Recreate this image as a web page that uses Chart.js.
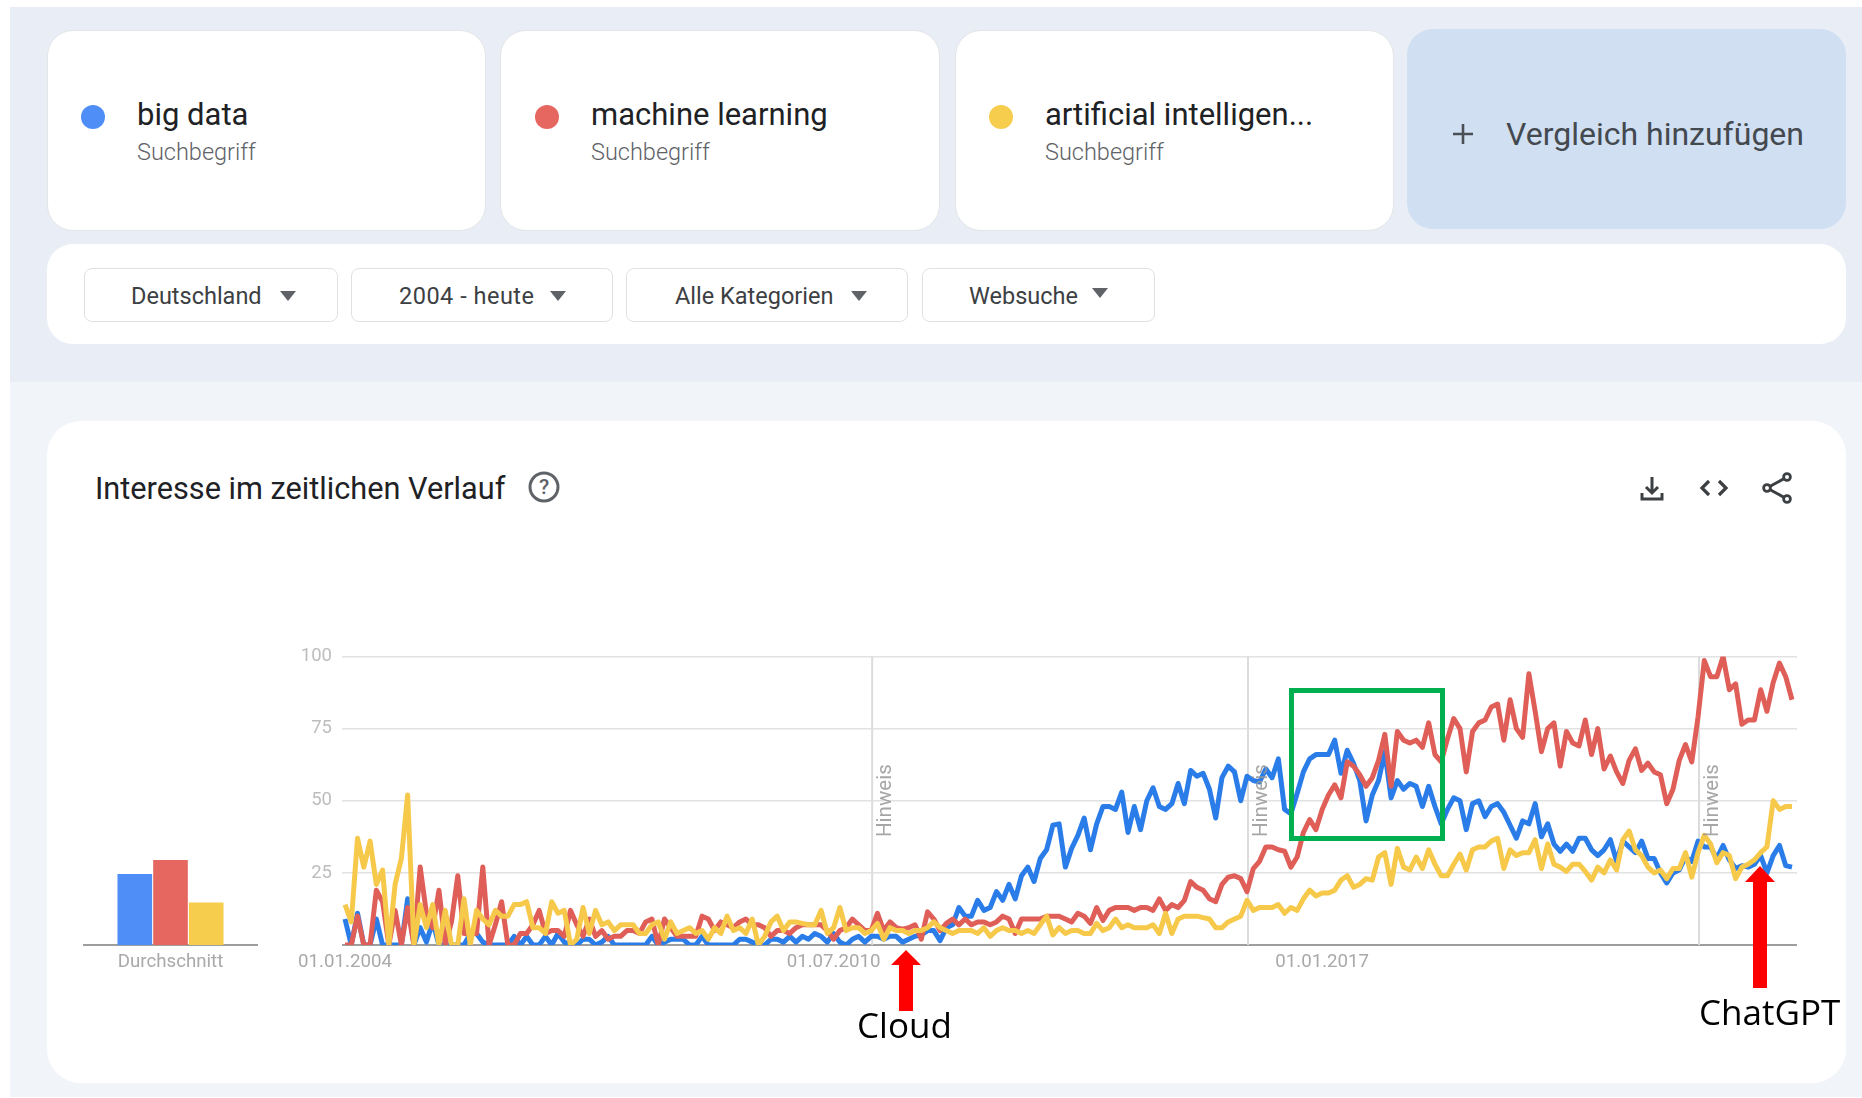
<!DOCTYPE html>
<html lang="de">
<head>
<meta charset="utf-8">
<title>Interesse im zeitlichen Verlauf</title>
<script src="https://cdn.jsdelivr.net/npm/chart.js@4/dist/chart.umd.min.js"></script>
<style>
  html, body { margin: 0; padding: 0; background: #fff; }
  body { width: 1862px; height: 1098px; position: relative; overflow: hidden; font-family: Roboto, sans-serif; }
  .abs { position: absolute; }
  .card { position: absolute; background: #fff; border-radius: 26px; box-sizing: border-box; }
  .term-card { top: 30px; height: 201px; width: 439px; border: 1px solid #e3e5e8; }
  .dot { position: absolute; width: 24px; height: 24px; border-radius: 50%; top: 105px; }
  .term { position: absolute; top: 97px; font-size: 31px; line-height: 36px; color: #202124; white-space: nowrap; }
  .sub { position: absolute; top: 138px; font-size: 23.5px; line-height: 28px; font-weight: 300; color: #5f6368; white-space: nowrap; }
  .chip { position: absolute; top: 268px; height: 54px; background: #fff; border: 1px solid #dfe1e5; border-radius: 8px; box-sizing: border-box; }
  .chip-text { position: absolute; top: 282px; font-size: 23.5px; line-height: 28px; color: #3c4043; white-space: nowrap; }
  .tri { position: absolute; top: 291px; width: 0; height: 0; border-left: 8px solid transparent; border-right: 8px solid transparent; border-top: 10px solid #5f6368; }
  canvas { position: absolute; }
  svg { position: absolute; overflow: visible; }
  .note { position: absolute; font-family: "Open Sans", sans-serif; font-size: 35px; line-height: 44px; color: #000; white-space: nowrap; }
</style>
</head>
<body>
<div class="abs" style="left:10px;top:7px;width:1852px;height:375px;background:#e9eef6"></div>
<div class="abs" style="left:10px;top:382px;width:1852px;height:715px;background:#f1f5fa"></div>

<div class="card term-card" style="left:47px"></div>
<div class="card term-card" style="left:500px;width:440px"></div>
<div class="card term-card" style="left:955px"></div>
<div class="card" style="left:1407px;top:29px;width:439px;height:200px;background:#d0dff2"></div>

<div class="dot" style="left:81px;background:#4f8ef7"></div>
<div class="dot" style="left:535px;background:#e5675f"></div>
<div class="dot" style="left:989px;background:#f7cd4e"></div>
<div class="term" style="left:137px">big data</div>
<div class="term" style="left:591px">machine learning</div>
<div class="term" style="left:1045px">artificial intelligen...</div>
<div class="sub" style="left:137px">Suchbegriff</div>
<div class="sub" style="left:591px">Suchbegriff</div>
<div class="sub" style="left:1045px">Suchbegriff</div>
<svg style="left:1451px;top:122px" width="24" height="24"><path d="M12 2V22M2 12H22" stroke="#4a4f55" stroke-width="2.6" fill="none"/></svg>
<div class="term" style="left:1506px;top:116px;font-size:32px;color:#44494f">Vergleich hinzufügen</div>

<div class="card" style="left:47px;top:244px;width:1799px;height:100px"></div>
<div class="chip" style="left:84px;width:254px"></div>
<div class="chip" style="left:351px;width:262px"></div>
<div class="chip" style="left:626px;width:282px"></div>
<div class="chip" style="left:922px;width:233px"></div>
<div class="chip-text" style="left:131px">Deutschland</div>
<div class="chip-text" style="left:399px;letter-spacing:0.5px">2004 - heute</div>
<div class="chip-text" style="left:675px">Alle Kategorien</div>
<div class="chip-text" style="left:969px">Websuche</div>
<div class="tri" style="left:280px"></div>
<div class="tri" style="left:550px"></div>
<div class="tri" style="left:851px"></div>
<div class="tri" style="left:1092px;top:288px"></div>

<div class="card" style="left:47px;top:421px;width:1799px;height:662px;border-radius:34px"></div>
<div class="abs" style="left:95px;top:471px;font-size:30.7px;line-height:36px;color:#202124;white-space:nowrap">Interesse im zeitlichen Verlauf</div>
<svg style="left:528px;top:471px" width="32" height="32" viewBox="0 0 32 32"><circle cx="16" cy="16" r="14" fill="none" stroke="#5f6368" stroke-width="3"/><text x="16" y="23" text-anchor="middle" font-family="Roboto" font-size="21" font-weight="500" fill="#5f6368">?</text></svg>
<svg style="left:1638px;top:474px" width="28" height="28" viewBox="0 0 28 28"><path d="M14 3V19M8 13L14 19L20 13M4 19V25H24V19" fill="none" stroke="#3c4043" stroke-width="3"/></svg>
<svg style="left:1699px;top:474px" width="30" height="28" viewBox="0 0 30 28"><path d="M10 7L3 14L10 21M20 7L27 14L20 21" fill="none" stroke="#3c4043" stroke-width="3.2"/></svg>
<svg style="left:1762px;top:473px" width="30" height="30" viewBox="0 0 30 30"><path d="M25 4L5 15L25 26" fill="none" stroke="#3c4043" stroke-width="3"/><circle cx="25" cy="4" r="3.4" fill="#fff" stroke="#3c4043" stroke-width="2.8"/><circle cx="5" cy="15" r="3.4" fill="#fff" stroke="#3c4043" stroke-width="2.8"/><circle cx="25" cy="26" r="3.4" fill="#fff" stroke="#3c4043" stroke-width="2.8"/></svg>

<canvas id="avgChart" style="left:83px;top:640px" width="175" height="350"></canvas>
<canvas id="trendChart" style="left:280px;top:640px" width="1530" height="350"></canvas>

<div class="abs" style="left:1289px;top:688px;width:156px;height:153px;border:5px solid #00b050;box-sizing:border-box"></div>
<svg style="left:890px;top:950px" width="32" height="62"><polygon points="16,0 31,15 23,15 23,61 9,61 9,15 1,15" fill="#ff0000"/></svg>
<svg style="left:1744px;top:866px" width="32" height="124"><polygon points="16,0 31,16 23,16 23,122 9,122 9,16 1,16" fill="#ff0000"/></svg>
<div class="note" style="left:857px;top:1003px">Cloud</div>
<div class="note" style="left:1699px;top:990px">ChatGPT</div>

<script>
// Months since 01.01.2004, one value per month (Google Trends, Deutschland)
const bigData = [
  9,0,11,0,0,9,0,0,0,0, 16,0,6,1,8,0,0,0,0,0,
  4,4,1,0,0,0,0,3,0,3, 0,0,3,0,4,1,0,0,2,2,
  0,1,3,0,0,0,0,0,0,3, 0,1,2,2,2,0,0,3,0,0,
  0,0,0,2,2,1,0,0,2,2, 1,3,1,3,2,4,3,1,4,1,
  0,2,3,1,3,3,2,3,3,1, 2,3,3.5,5,5,1.5,6,7,13,10,
  10,15.5,12,13,18.5,15.5,21,16,24,27, 22,30,33,41.5,42,27,33.5,38,44,33,
  42,48,48,47,53,39,48,40,50,54.5, 48,47,49,56,49,60.5,58.5,59.5,54,44,
  58,62,60,50,58.5,57,56.5,61,58,64.5, 47,45.5,52.5,60,64.5,66,66,66,71,59.5,
  67.5,63,57,43,52,57,67,51,57,54, 56,55,48,55,48,42,47,51,50,40,
  49,50,44.5,48,49,46,41.5,37,43,42, 49,37.5,42,35,32.5,35,32.5,37,37,33,
  31,33,36.5,29,36,34,32,36,30,30, 25,21.5,25,26,30.5,29,36,34,34,30,
  34.5,29.5,26.5,27.5,27,28,31,25,31,34.5,27.5,27
];
const machineLearning = [
  0,0,10,0,0,19,15,0,12,0, 13,0,27,11,6,19,0,8,24,4,
  4,4,27,0,7,15,0,0,4,4, 7,12,4,5,5,3,12,7,3,9,
  3,5,2,3,3,5,5,4,8,9, 0,9,6,3,3,3,3,10,9,5,
  8,7,6,8,9,7,7,6,3,5, 5,4,6,7,7,7,7,5,2,5,
  6,9,7,5,5,11,5,8,6,5.5, 6,7,2,11.5,9,5,7.5,9,7,9,
  7,8,8,7,8,10,9,4,9,9, 9,9,10,10,10,9,8,11,10,7.5,
  13,8.5,12,13,13,13,12,13,13,12, 16,12,14,13,15.5,22,20,19,16,15,
  21,23.5,24,23,18.5,26.5,29,34,34,33, 32.5,27,30.5,39,43.5,40,47,52,55.5,51,
  63.5,62,59,55,58,64,73,55,74,71, 70,71,68.5,77,66,63.5,71.5,78.5,75,60,
  74,77,78,82.5,83.5,71,85,75,72,94, 81,67,75,77,62,74,70,69,78,66,
  75,61,65.5,60,56,64,68,60.5,63,60, 59,49,54,64,69.5,63.5,79,98.6,93,93,
  100,88.5,90.5,76.5,78,78,88.5,81,91,97.7,93,85
];
const artificialIntelligence = [
  14,8,37,27,36,21,26,0,21,30, 52,0,14,6,14,0,12,0,0,16,
  0,12,9,7,12,10,10,14,14,15, 6,6,4,15,11,12,0,2,13,4,
  12,7,8,5,7,7,7,4,4,7, 8,2,8,4,5,6,4,5,2,6,
  4,10,5,6,4,9,0,3,8,10, 5,8,8,7.5,7,7,12,4,6,13,
  5,6,6,4,5,7.5,2,6,5,5, 4,5,5,6,8,6,5,4,5,5,
  5,4,6,3,5,6,5,5,4,5, 4,7,10,3.5,6,4,5,5,4,4,
  7.5,5,6,9,6,7,6,6,6,7, 4,11,4,9,10,10,10,9.5,9,6,
  6,8,9,10,15.5,12,13,13,13,14, 11,13,12,16,19,17,18,18,19,22.5,
  24,20,21,23,22.5,30.5,32,21,33.5,27, 26,30.5,26.5,33,28,24,24,28,31.5,26,
  33,34,34,36,37,26.5,33,31,32,32, 36.5,26.5,35,28,27,25.5,28,28,25.5,22.5,
  27,25,29.5,26,36.5,39.5,33,31,27,25, 26,23,26.5,26.5,32,23.5,32,38,35,28.5,
  32,31,23,27,28,29.5,32,34,50,47,48,48
];
const averages = [24.6, 29.4, 14.7];
const seriesNames = ["big data", "machine learning", "artificial intelligence"];
const yTicks = [0, 25, 50, 75, 100];
const xTickMonths = [0, 78, 156];
const xTickLabels = ["01.01.2004", "01.07.2010", "01.01.2017"];
const noteMonths = [84, 144, 216];
const noteLabel = "Hinweis";

const lineColors = ["#2a7de9", "#df5f58", "#f6c94a"];
const barColors = ["#4f8ef7", "#e5675f", "#f7cd4e"];
const trendSeries = [bigData, machineLearning, artificialIntelligence];

Chart.defaults.font.family = "Roboto, sans-serif";

// vertical "Hinweis" markers sit on the month scale
const notePlugin = {
  id: "notes",
  beforeDatasetsDraw(chart) {
    const { ctx, chartArea, scales } = chart;
    ctx.save();
    ctx.strokeStyle = "#dcdcdc";
    ctx.lineWidth = 2;
    noteMonths.forEach(m => {
      const x = scales.x.getPixelForValue(m) + 1;
      ctx.beginPath();
      ctx.moveTo(x, chartArea.top);
      ctx.lineTo(x, chartArea.bottom);
      ctx.stroke();
    });
    ctx.restore();
  },
  afterDatasetsDraw(chart) {
    const { ctx, chartArea, scales } = chart;
    ctx.save();
    ctx.fillStyle = "rgba(150,150,150,0.85)";
    ctx.font = "20.5px Roboto, sans-serif";
    ctx.textBaseline = "middle";
    noteMonths.forEach(m => {
      ctx.save();
      ctx.translate(scales.x.getPixelForValue(m) + 15, chartArea.bottom - 108);
      ctx.rotate(-Math.PI / 2);
      ctx.fillText(noteLabel, 0, 0);
      ctx.restore();
    });
    ctx.restore();
  }
};

new Chart(document.getElementById("trendChart"), {
  type: "line",
  data: {
    // drawn back to front: blue, red, yellow
    datasets: trendSeries.map((values, s) => ({
      label: seriesNames[s],
      data: values.map((v, i) => ({ x: i, y: v })),
      borderColor: lineColors[s],
      borderWidth: 5,
      borderJoinStyle: "round", // miter joins overshoot the spikes
      pointRadius: 0,
      tension: 0,
      order: 2 - s
    }))
  },
  options: {
    responsive: false,
    animation: false,
    devicePixelRatio: 1,
    layout: { padding: { top: 16.5, right: 13, left: 0, bottom: 0 } },
    plugins: { legend: { display: false }, tooltip: { enabled: false } },
    scales: {
      x: {
        type: "linear",
        min: -0.48,
        max: 231.8,
        grid: { display: false },
        border: { display: false },
        afterBuildTicks: axis => { axis.ticks = xTickMonths.map(v => ({ value: v })); },
        afterFit: axis => { axis.height = 45; },
        ticks: {
          autoSkip: false,
          maxRotation: 0,
          padding: -2,
          color: "#a9a9a9",
          font: { size: 18.7 },
          callback: v => xTickLabels[xTickMonths.indexOf(v)]
        }
      },
      y: {
        min: 0,
        max: 100,
        afterBuildTicks: axis => { axis.ticks = yTicks.map(v => ({ value: v })); },
        // tick label padding would push the 100 line down, so drop it
        afterFit: axis => { axis.width = 62; axis.paddingTop = 0; axis.paddingBottom = 0; },
        border: { display: false },
        grid: {
          drawTicks: false,
          lineWidth: c => (c.tick.value === 0 ? 2 : 1.5),
          color: c => (c.tick.value === 0 ? "#9e9e9e" : "#e2e2e2")
        },
        ticks: {
          padding: 10,
          color: "#bdbdbd",
          font: { size: 18.5 },
          callback: v => (v === 0 ? "" : v)
        }
      }
    }
  },
  plugins: [notePlugin]
});

new Chart(document.getElementById("avgChart"), {
  type: "bar",
  data: {
    labels: ["Durchschnitt"],
    datasets: averages.map((v, s) => ({
      label: seriesNames[s],
      data: [v],
      backgroundColor: barColors[s],
      categoryPercentage: 0.612,
      barPercentage: 0.97
    }))
  },
  options: {
    responsive: false,
    animation: false,
    devicePixelRatio: 1,
    layout: { padding: { top: 16, right: 0, left: 0, bottom: 0 } },
    plugins: { legend: { display: false }, tooltip: { enabled: false } },
    scales: {
      x: {
        grid: { display: false },
        border: { color: "#9e9e9e", width: 2 },
        afterFit: axis => { axis.height = 45; },
        ticks: { padding: -2, color: "#a9a9a9", font: { size: 18.7 } }
      },
      y: { display: false, min: 0, max: 100 }
    }
  }
});
</script>
</body>
</html>
